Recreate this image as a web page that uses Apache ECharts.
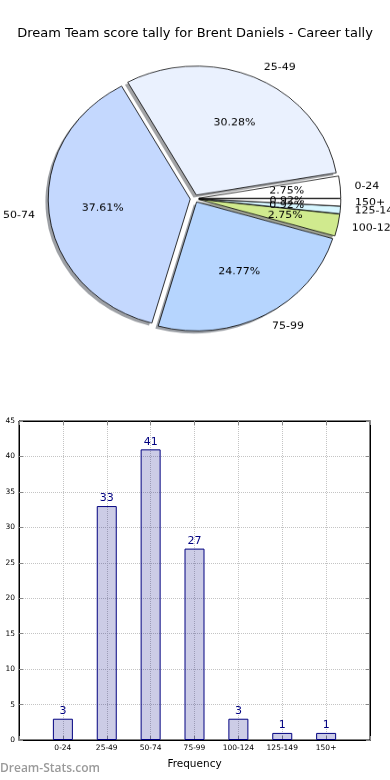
<!DOCTYPE html>
<html><head><meta charset="utf-8">
<script src="https://cdn.jsdelivr.net/npm/echarts@6/dist/echarts.min.js"></script>
<style>
html,body{margin:0;padding:0;background:#fff;}
#main{position:absolute;left:0;top:0;width:390px;height:780px;}
#pie{position:absolute;left:0;top:40px;width:390px;height:380px;transform:scaleY(0.908);transform-origin:0 0;}
</style></head><body>
<div id="main"></div><div id="pie"></div>
<script>
const categories = ['0-24','25-49','50-74','75-99','100-124','125-149','150+'];
const counts = [3, 33, 41, 27, 3, 1, 1];
const titleText = 'Dream Team score tally for Brent Daniels - Career tally';
const xAxisName = 'Frequency';
const watermark = 'Dream-Stats.com';

const sliceColors = ['#ffffff','#eaf1fe','#c4d8fe','#b6d5fe','#d0ea8e','#d6f6ff','#ffffff'];
const FONT = 'DejaVu Sans';
const total = counts.reduce((a,b)=>a+b,0);

function shade(hex){
  const r=parseInt(hex.substr(1,2),16),g=parseInt(hex.substr(3,2),16),b=parseInt(hex.substr(5,2),16);
  return 'rgba('+Math.round(r*0.3)+','+Math.round(g*0.3)+','+Math.round(b*0.3)+',0.5)';
}

const R = 142, CX = 194.5, CY = 174.6, OFF = 4.3;

const pieData = categories.map((c,i)=>({name:c, value:counts[i], selected:true, itemStyle:{color:sliceColors[i]}}));
const shadowData = categories.map((c,i)=>({name:c, value:counts[i], selected:true, itemStyle:{color:shade(sliceColors[i])}}));
const pctData = categories.map((c,i)=>({name:c, value:counts[i], selected:true}));

const pieChart = echarts.init(document.getElementById('pie'));
pieChart.setOption({
  animation:false,
  series:[
    {type:'pie', name:'shadow', center:[CX-2.8, CY+2.8], radius:[0,R], startAngle:0, clockwise:false,
     selectedMode:'multiple', selectedOffset:OFF, silent:true, z:1,
     label:{show:false}, labelLine:{show:false}, itemStyle:{borderWidth:0},
     data:shadowData},
    {type:'pie', name:'main', center:[CX, CY], radius:[0,R], startAngle:0, clockwise:false,
     selectedMode:'multiple', selectedOffset:OFF, silent:true, z:2, avoidLabelOverlap:false,
     labelLayout:{hideOverlap:false},
     itemStyle:{borderColor:'#000', borderWidth:0.8},
     label:{show:true, position:'outside', formatter:'{b}', fontFamily:FONT, fontSize:11, color:'#000', distanceToLabelLine:0},
     labelLine:{show:false, length:R*0.1, length2:0},
     data:pieData},
    {type:'pie', name:'pct', center:[CX, CY], radius:[0,R*1.2], startAngle:0, clockwise:false,
     selectedMode:'multiple', selectedOffset:OFF, silent:true, z:3, avoidLabelOverlap:false,
     labelLayout:{hideOverlap:false},
     itemStyle:{color:'rgba(0,0,0,0)', borderWidth:0},
     label:{show:true, position:'inside', fontFamily:FONT, fontSize:11, color:'#000',
       formatter:p=>(p.value/total*100).toFixed(2)+'%'},
     labelLine:{show:false},
     data:pctData}
  ]
});

const mainChart = echarts.init(document.getElementById('main'));
mainChart.setOption({
  animation:false,
  title:[
    {text:titleText, left:'center', top:22, textStyle:{fontFamily:FONT, fontSize:13, fontWeight:'normal', color:'#000'}},
    {text:watermark, left:0, top:763, padding:0, textStyle:{fontFamily:'Open Sans', fontSize:12, fontWeight:600, color:'#9a9a9a'}}
  ],
  grid:{left:19, right:20, top:421, bottom:40, show:true, borderColor:'#000', borderWidth:1, backgroundColor:'transparent'},
  xAxis:[
    {type:'value', min:-1, max:7, interval:1, position:'bottom',
     axisLine:{show:true, onZero:false, lineStyle:{color:'#000'}},
     axisTick:{show:true, inside:true, length:4, lineStyle:{color:'#888'}},
     axisLabel:{fontFamily:FONT, fontSize:7.5, color:'#000', margin:4,
       formatter:v=>(v>=0 && v<categories.length)?categories[v]:''},
     splitLine:{show:true, lineStyle:{type:'dotted', color:'#c4c4c4', width:1}},
     name:xAxisName, nameLocation:'middle', nameGap:19,
     nameTextStyle:{fontFamily:FONT, fontSize:10.5, color:'#000'}},
    {type:'value', min:-1, max:7, interval:1, position:'top',
     axisLine:{show:true, onZero:false, lineStyle:{color:'#000'}},
     axisTick:{show:true, inside:true, length:4, lineStyle:{color:'#888'}},
     axisLabel:{show:false}, splitLine:{show:false}}
  ],
  yAxis:[
    {type:'value', min:0, max:45, interval:5, position:'left',
     axisLine:{show:true, onZero:false, lineStyle:{color:'#000'}},
     axisTick:{show:true, inside:true, length:4, lineStyle:{color:'#888'}},
     axisLabel:{fontFamily:FONT, fontSize:7.5, color:'#000', margin:4},
     splitLine:{show:true, lineStyle:{type:'dotted', color:'#c4c4c4', width:1}}},
    {type:'value', min:0, max:45, interval:5, position:'right',
     axisLine:{show:true, onZero:false, lineStyle:{color:'#000'}},
     axisTick:{show:true, inside:true, length:4, lineStyle:{color:'#888'}},
     axisLabel:{show:false}, splitLine:{show:false}}
  ],
  series:[
    {type:'bar', xAxisIndex:0, yAxisIndex:0, barWidth:20,
     data:counts.map((v,i)=>[i,v]),
     itemStyle:{color:'rgba(0,0,128,0.2)', borderColor:'#000080', borderWidth:1},
     label:{show:true, position:'top', distance:2, fontFamily:FONT, fontSize:11, color:'#000080',
       formatter:p=>p.value[1]}}
  ]
});
</script>
</body></html>
